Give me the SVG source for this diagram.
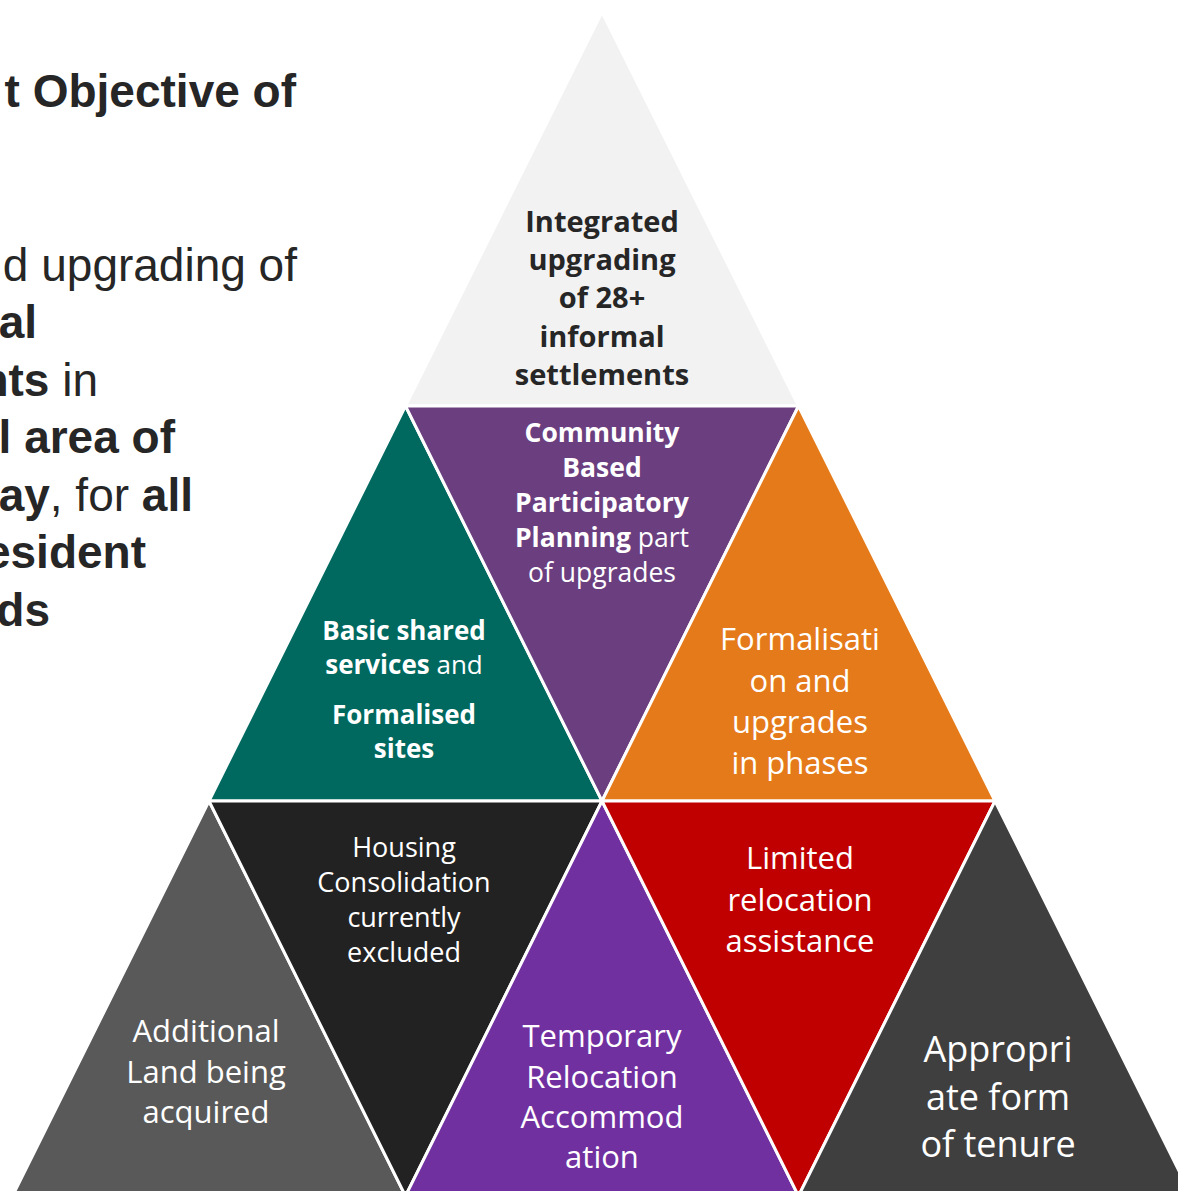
<svg xmlns="http://www.w3.org/2000/svg" width="1178" height="1191" viewBox="0 0 1178 1191">
<style>
.tri{stroke:#FFFFFF;stroke-width:3;stroke-linejoin:miter}
.lt{font-family:"Liberation Sans",Arial,sans-serif;font-size:46px;fill:#262626;text-anchor:end}
.b{font-weight:bold}
.t{font-family:"Open Sans","Noto Sans",sans-serif;text-anchor:middle;fill:#FFFFFF}
</style>
<rect x="0" y="0" width="1178" height="1191" fill="#FFFFFF"/>
<g id="left-text">
<text class="lt b" x="296" y="107">t Objective of</text>
<text class="lt" x="297" y="281">d upgrading of</text>
<text class="lt b" x="37" y="338">al</text>
<text class="lt" x="98" y="396"><tspan class="b">nts</tspan> in</text>
<text class="lt b" x="175" y="453">l area of</text>
<text class="lt" x="193" y="511"><tspan class="b">ay</tspan>, for <tspan class="b">all</tspan></text>
<text class="lt b" x="146" y="568">esident</text>
<text class="lt b" x="50" y="626">ds</text>
</g>
<g id="connectors"></g>
<g id="n-top">
<polygon class="tri" points="602,12 798.5,406 405.5,406" fill="#F2F2F2"/>
<text class="t b" font-size="29" style="fill:#262626"><tspan x="602" y="232">Integrated</tspan><tspan x="602" y="270">upgrading</tspan><tspan x="602" y="308">of 28+</tspan><tspan x="602" y="347">informal</tspan><tspan x="602" y="385">settlements</tspan></text>
</g>
<g id="n-teal">
<polygon class="tri" points="405.5,406 602,801 209,801" fill="#00695F"/>
<text class="t" font-size="26"><tspan x="404" y="640" class="b">Basic shared</tspan><tspan x="404" y="674"><tspan class="b">services</tspan> and</tspan><tspan x="404" y="724" class="b">Formalised</tspan><tspan x="404" y="758" class="b">sites</tspan></text>
</g>
<g id="n-purple">
<polygon class="tri" points="405.5,406 798.5,406 602,801" fill="#6B3F7F"/>
<text class="t" font-size="26.5"><tspan x="602" y="442" class="b">Community</tspan><tspan x="602" y="477" class="b">Based</tspan><tspan x="602" y="512" class="b">Participatory</tspan><tspan x="602" y="547"><tspan class="b">Planning</tspan> part</tspan><tspan x="602" y="582">of upgrades</tspan></text>
</g>
<g id="n-orange">
<polygon class="tri" points="798.5,406 995,801 602,801" fill="#E57A1A"/>
<text class="t" font-size="31"><tspan x="800" y="650">Formalisati</tspan><tspan x="800" y="692">on and</tspan><tspan x="800" y="733">upgrades</tspan><tspan x="800" y="774">in phases</tspan></text>
</g>
<g id="n-gray">
<polygon class="tri" points="209,801 405.5,1196 12.5,1196" fill="#595959"/>
<text class="t" font-size="31"><tspan x="206" y="1042">Additional</tspan><tspan x="206" y="1083">Land being</tspan><tspan x="206" y="1123">acquired</tspan></text>
</g>
<g id="n-black">
<polygon class="tri" points="209,801 602,801 405.5,1196" fill="#222222"/>
<text class="t" font-size="27"><tspan x="404" y="857">Housing</tspan><tspan x="404" y="892">Consolidation</tspan><tspan x="404" y="927">currently</tspan><tspan x="404" y="962">excluded</tspan></text>
</g>
<g id="n-violet">
<polygon class="tri" points="602,801 798.5,1196 405.5,1196" fill="#7030A0"/>
<text class="t" font-size="31"><tspan x="602" y="1047">Temporary</tspan><tspan x="602" y="1088">Relocation</tspan><tspan x="602" y="1128">Accommod</tspan><tspan x="602" y="1168">ation</tspan></text>
</g>
<g id="n-red">
<polygon class="tri" points="602,801 995,801 798.5,1196" fill="#C00000"/>
<text class="t" font-size="31"><tspan x="800" y="869">Limited</tspan><tspan x="800" y="911">relocation</tspan><tspan x="800" y="952">assistance</tspan></text>
</g>
<g id="n-darkgray">
<polygon class="tri" points="995,801 1191.5,1196 798.5,1196" fill="#3F3F3F"/>
<text class="t" font-size="36"><tspan x="998" y="1062">Appropri</tspan><tspan x="998" y="1110">ate form</tspan><tspan x="998" y="1157">of tenure</tspan></text>
</g>
</svg>
